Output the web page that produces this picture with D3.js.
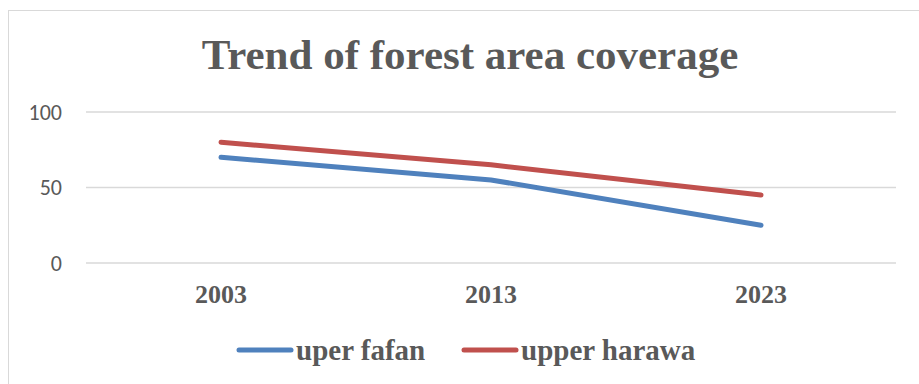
<!DOCTYPE html>
<html>
<head>
<meta charset="utf-8">
<script src="https://cdn.jsdelivr.net/npm/d3@7"></script>
<style>
  body { margin: 0; background: #fff; }
</style>
</head>
<body>
<script>
// forest area coverage for two catchments
var years = ['2003', '2013', '2023'];
var uperFafan = [70, 55, 25];
var upperHarawa = [80, 65, 45];
var seriesNames = ['uper fafan', 'upper harawa'];
var seriesColors = ['#4f81bd', '#c0504d'];
var yTicks = [0, 50, 100];

var width = 919;
var height = 384;

var svg = d3.select('body')
            .append('svg')
            .attr('width', width)
            .attr('height', height);

// chart frame
svg.append('rect')
   .attr('x', 8.5)
   .attr('y', 10.5)
   .attr('width', 930)
   .attr('height', 400)
   .attr('fill', '#fff')
   .attr('stroke', '#d9d9d9');

svg.append('text')
   .attr('x', 470)
   .attr('y', 69)
   .attr('text-anchor', 'middle')
   .attr('font-family', 'Liberation Serif, Times New Roman, serif')
   .attr('font-weight', 'bold')
   .attr('font-size', 43)
   .attr('fill', '#595959')
   .text('Trend of forest area coverage');

var x = d3.scaleBand()
          .domain(years)
          .range([86, 896]);

var y = d3.scaleLinear()
          .domain([0, 100])
          .range([263, 112]);

// gridlines
svg.selectAll('line.grid')
   .data(yTicks)
   .enter()
   .append('line')
   .attr('class', 'grid')
   .attr('x1', 86)
   .attr('x2', 896)
   .attr('y1', function(d) { return y(d); })
   .attr('y2', function(d) { return y(d); })
   .attr('stroke', '#d9d9d9')
   .attr('stroke-width', 1.5);

// y axis labels
var yAxis = svg.append('g')
               .attr('transform', 'translate(86,0)')
               .call(d3.axisLeft(y).tickValues(yTicks).tickSize(0).tickPadding(24));
yAxis.select('.domain').remove();
yAxis.selectAll('text')
     .attr('font-family', 'Carlito, Calibri, Liberation Sans, sans-serif')
     .attr('font-size', 22)
     .attr('fill', '#595959');

// x axis labels
var xAxis = svg.append('g')
               .attr('transform', 'translate(0,263)')
               .call(d3.axisBottom(x).tickSize(0).tickPadding(22));
xAxis.select('.domain').remove();
xAxis.selectAll('text')
     .attr('font-family', 'Liberation Serif, Times New Roman, serif')
     .attr('font-weight', 'bold')
     .attr('font-size', 26)
     .attr('fill', '#595959');

var line = d3.line()
             .x(function(d, i) { return x(years[i]) + x.bandwidth() / 2; })
             .y(function(d) { return y(d); });

svg.selectAll('path.series')
   .data([uperFafan, upperHarawa])
   .enter()
   .append('path')
   .attr('class', 'series')
   .attr('d', line)
   .attr('fill', 'none')
   .attr('stroke', function(d, i) { return seriesColors[i]; })
   .attr('stroke-width', 5)
   .attr('stroke-linecap', 'round')
   .attr('stroke-linejoin', 'round');

// legend
var legendX = [239, 464];
var legend = svg.selectAll('g.legend')
                .data(seriesNames)
                .enter()
                .append('g')
                .attr('class', 'legend')
                .attr('transform', function(d, i) { return 'translate(' + legendX[i] + ',350)'; });

legend.append('line')
      .attr('x1', 0)
      .attr('x2', 52)
      .attr('stroke', function(d, i) { return seriesColors[i]; })
      .attr('stroke-width', 5)
      .attr('stroke-linecap', 'round');

legend.append('text')
      .attr('x', 57)
      .attr('y', 10)
      .attr('font-family', 'Liberation Serif, Times New Roman, serif')
      .attr('font-weight', 'bold')
      .attr('font-size', 29)
      .attr('fill', '#595959')
      .text(function(d) { return d; });
</script>
</body>
</html>
